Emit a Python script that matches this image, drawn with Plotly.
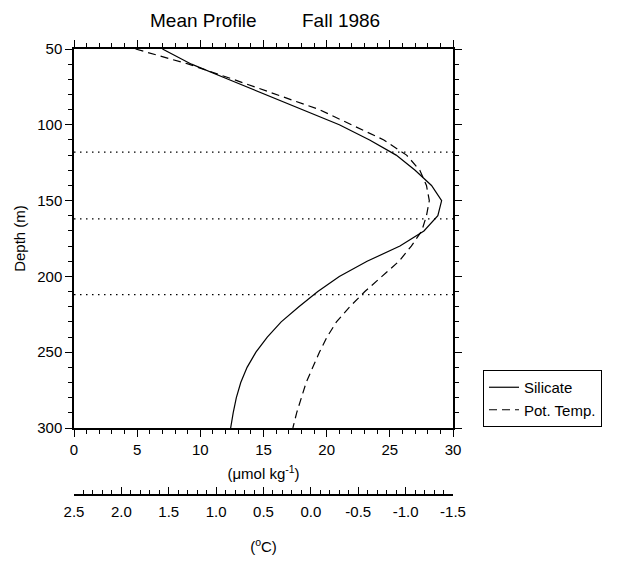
import plotly.graph_objects as go

depth = [50, 60, 70, 80, 90, 100, 110, 120, 130, 140, 150, 160, 170, 180, 190,
         200, 210, 220, 230, 240, 250, 260, 270, 280, 290, 300]
silicate = [7.0, 9.3, 12.2, 15.1, 18.1, 21.0, 23.4, 25.5, 27.0, 28.3, 29.1, 28.8,
            27.7, 25.8, 23.2, 21.0, 19.3, 17.8, 16.4, 15.3, 14.4, 13.7, 13.2,
            12.85, 12.6, 12.4]
pot_temp = [1.85, 1.29, 0.82, 0.37, -0.09, -0.43, -0.77, -1.01, -1.15, -1.22,
            -1.25, -1.22, -1.17, -1.06, -0.93, -0.75, -0.57, -0.41, -0.27, -0.17,
            -0.09, -0.02, 0.05, 0.10, 0.15, 0.19]
ref_depths = [118, 162, 212]
temp_ticks = [2.5, 2.0, 1.5, 1.0, 0.5, 0.0, -0.5, -1.0, -1.5]
temp_ticktext = ["2.5", "2.0", "1.5", "1.0", "0.5", "0.0", "-0.5", "-1.0", "-1.5"]

FONT = "Liberation Sans, Arial, Helvetica, sans-serif"

fig = go.Figure()
fig.add_trace(go.Scatter(x=silicate, y=depth, mode="lines", name="Silicate",
                         line=dict(color="black", width=1.2), xaxis="x", yaxis="y"))
fig.add_trace(go.Scatter(x=pot_temp, y=depth, mode="lines", name="Pot. Temp.",
                         line=dict(color="black", width=1.2, dash="8px,5px"),
                         xaxis="x2", yaxis="y"))

for d in ref_depths:
    fig.add_shape(type="line", xref="x", yref="y", x0=0, x1=30, y0=d, y1=d,
                  line=dict(color="black", width=1.3, dash="1.5px,4.5px"))

W, H = 623, 567
ml, mr, mt, mb = 74, 170, 49, 72
plot_h = H - mt - mb
plot_w = W - ml - mr
ydom0 = (495 - 428) / plot_h

axis_common = dict(showgrid=False, zeroline=False, showline=True, linecolor="black",
                   linewidth=1.5, tickcolor="black", tickfont=dict(size=15, color="black", family=FONT))

fig.update_layout(
    width=W, height=H,
    margin=dict(l=ml, r=mr, t=mt, b=mb),
    paper_bgcolor="white", plot_bgcolor="white",
    font=dict(family=FONT, color="black"),
    showlegend=True,
    legend=dict(x=(483 - ml) / plot_w, y=(495 - 427) / plot_h,
                xanchor="left", yanchor="bottom", bordercolor="black", borderwidth=1,
                bgcolor="white", font=dict(size=15, family=FONT, color="black"),
                tracegroupgap=0),
    xaxis=dict(range=[0, 30], dtick=5, tick0=0, ticks="outside", ticklen=7, tickwidth=1.2,
               mirror="ticks", anchor="y",
               minor=dict(dtick=1, ticks="outside", ticklen=4, tickcolor="black", tickwidth=1),
               title=dict(text="(μmol kg<sup>-1</sup>)", font=dict(size=15, family=FONT), standoff=12),
               **axis_common),
    xaxis2=dict(range=[2.5, -1.5], tickvals=temp_ticks, ticktext=temp_ticktext, ticks="inside",
                ticklen=7, tickwidth=1.2, overlaying="x", anchor="free", position=0, side="bottom",
                ticklabelstandoff=3,
                minor=dict(dtick=0.1, tick0=0, ticks="inside", ticklen=4, tickcolor="black", tickwidth=1),
                title=dict(text="(<sup>o</sup>C)", font=dict(size=15, family=FONT), standoff=22),
                **axis_common),
    yaxis=dict(range=[300, 50], dtick=50, tick0=0, ticks="outside", ticklen=7, tickwidth=1.2,
               mirror="ticks", domain=[ydom0, 1], anchor="x",
               minor=dict(dtick=10, ticks="outside", ticklen=4, tickcolor="black", tickwidth=1),
               title=dict(text="Depth (m)", font=dict(size=15, family=FONT), standoff=8),
               **axis_common),
)

fig.add_annotation(text="Mean Profile", xref="paper", yref="paper", x=(203 - ml) / plot_w,
                   xanchor="center", yanchor="middle", y=1, yshift=29, showarrow=False,
                   font=dict(size=19, family=FONT, color="black"))
fig.add_annotation(text="Fall 1986", xref="paper", yref="paper", x=(341 - ml) / plot_w,
                   xanchor="center", yanchor="middle", y=1, yshift=29, showarrow=False,
                   font=dict(size=19, family=FONT, color="black"))

fig.write_html("out.html")
